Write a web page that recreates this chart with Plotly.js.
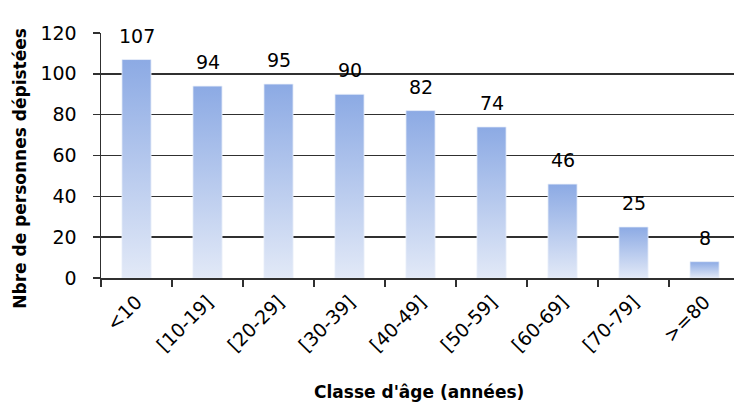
<!DOCTYPE html>
<html>
<head>
<meta charset="utf-8">
<script src="https://cdn.plot.ly/plotly-3.0.1.min.js"></script>
<style>html,body{margin:0;padding:0;background:#fff;}#chart{width:734px;height:403px;}</style>
</head>
<body>
<div id="chart"></div>
<script>
const categories = ["<10", "[10-19]", "[20-29]", "[30-39]", "[40-49]", "[50-59]", "[60-69]", "[70-79]", ">=80"];
const values = [107, 94, 95, 90, 82, 74, 46, 25, 8];
const yTickVals = [0, 20, 40, 60, 80, 100, 120];

const FONT = "DejaVu Sans";
const gridCol = "#303030";

const trace = {
  type: "bar",
  x: categories,
  y: values,
  width: 0.41,
  marker: { color: "rgb(160,185,232)", line: { width: 0 } },
  hoverinfo: "none"
};

const labelAnns = categories.map((c, i) => ({
  x: c, y: values[i], xref: "x", yref: "y",
  text: String(values[i]), showarrow: false,
  yanchor: "bottom", yshift: 11,
  font: { family: FONT, size: 19, color: "#000" }
}));

const layout = {
  width: 734, height: 403,
  margin: { l: 101, r: 0, t: 33, b: 125, pad: 0 },
  paper_bgcolor: "#fff", plot_bgcolor: "#fff",
  showlegend: false,
  bargap: 0.59,
  xaxis: {
    type: "category",
    range: [-0.5, 8.415],
    showline: true, linecolor: gridCol, linewidth: 1.5,
    ticks: "outside", ticklen: 7, tickcolor: gridCol, tickwidth: 1.5,
    tickson: "boundaries",
    tickangle: -45,
    ticklabelstandoff: 4,
    tickfont: { family: FONT, size: 19, color: "#000" },
    showgrid: false, zeroline: false, fixedrange: true
  },
  yaxis: {
    range: [0, 120],
    tickvals: yTickVals,
    ticktext: yTickVals.map(String),
    showline: true, linecolor: gridCol, linewidth: 1.5,
    ticks: "outside", ticklen: 7, tickcolor: gridCol, tickwidth: 1.5,
    ticklabelstandoff: 12,
    showgrid: true, gridcolor: gridCol, gridwidth: 1.4,
    zeroline: false,
    tickfont: { family: FONT, size: 19, color: "#000" },
    fixedrange: true
  },
  annotations: labelAnns.concat([
    {
      text: "<b>Nbre de personnes dépistées</b>",
      xref: "paper", yref: "paper", x: -0.128, y: 0.45,
      xanchor: "center", yanchor: "middle", textangle: -90, showarrow: false,
      font: { family: FONT, size: 17, color: "#000" }
    },
    {
      text: "<b>Classe d'âge (années)</b>",
      xref: "paper", yref: "paper", x: 0.503, y: -0.465,
      xanchor: "center", yanchor: "middle", showarrow: false,
      font: { family: FONT, size: 17, color: "#000" }
    }
  ])
};

Plotly.newPlot("chart", [trace], layout, { displayModeBar: false, staticPlot: true }).then(gd => {
  const svg = gd.querySelector("svg.main-svg");
  const ns = "http://www.w3.org/2000/svg";
  let defs = svg.querySelector("defs");
  if (!defs) { defs = document.createElementNS(ns, "defs"); svg.insertBefore(defs, svg.firstChild); }
  const grad = document.createElementNS(ns, "linearGradient");
  grad.setAttribute("id", "barGrad");
  grad.setAttribute("x1", "0"); grad.setAttribute("y1", "0");
  grad.setAttribute("x2", "0"); grad.setAttribute("y2", "1");
  [["0", "rgb(140,170,228)"], ["1", "rgb(226,233,247)"]].forEach(([o, c]) => {
    const s = document.createElementNS(ns, "stop");
    s.setAttribute("offset", o); s.setAttribute("stop-color", c);
    grad.appendChild(s);
  });
  defs.appendChild(grad);
  gd.querySelectorAll(".trace.bars .point path").forEach(p => {
    p.style.fill = "url(#barGrad)";
    p.style.stroke = "rgba(235,240,250,0.8)";
    p.style.strokeWidth = "1px";
  });
});
</script>
</body>
</html>
